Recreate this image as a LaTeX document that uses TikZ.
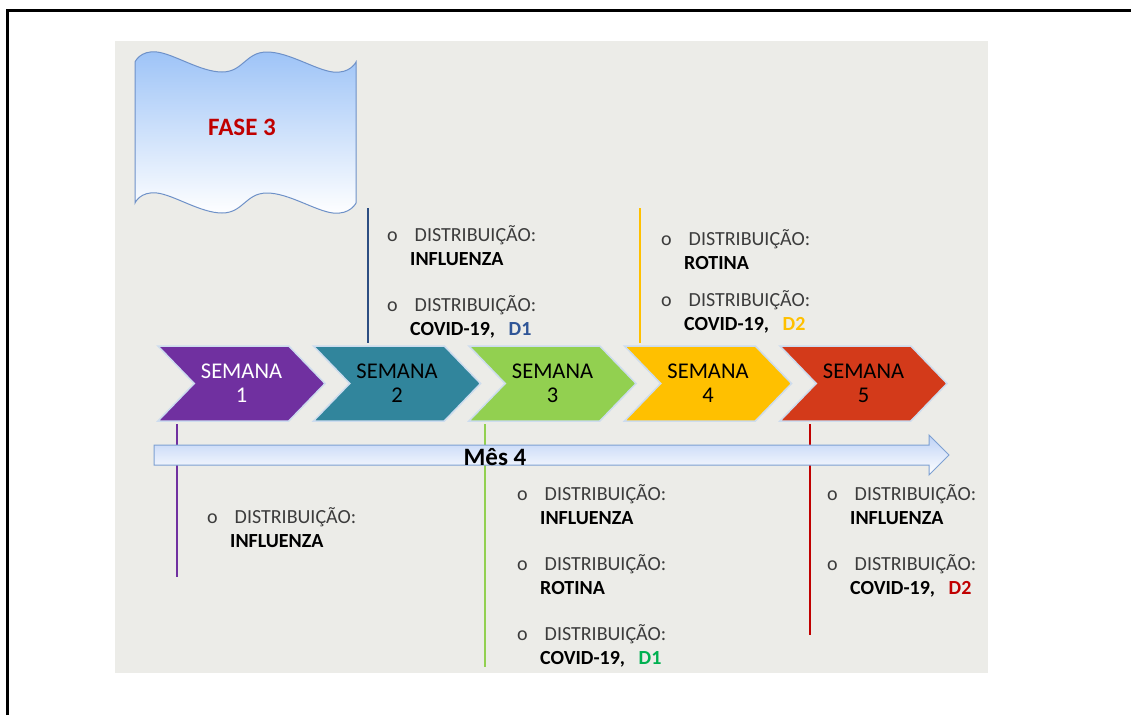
\documentclass[tikz,border=0pt]{standalone}
\usepackage{fontspec}
\setmainfont{Carlito}
\usepackage{tikz}
\usetikzlibrary{shapes.symbols, positioning}

\definecolor{bggray}{RGB}{236,236,232}
\definecolor{flagblue}{RGB}{157,195,247}
\definecolor{flagedge}{RGB}{110,145,200}
\definecolor{faseRed}{RGB}{192,0,0}
\definecolor{wkPurple}{RGB}{112,48,160}
\definecolor{wkTeal}{RGB}{49,133,156}
\definecolor{wkGreen}{RGB}{146,208,80}
\definecolor{wkGold}{RGB}{255,192,0}
\definecolor{wkRed}{RGB}{211,58,26}
\definecolor{wkEdge}{RGB}{205,220,238}
\definecolor{arrowBlue}{RGB}{190,210,246}
\definecolor{arrowEdge}{RGB}{125,160,210}
\definecolor{stemNavy}{RGB}{45,78,130}
\definecolor{stemRed}{RGB}{192,0,0}
\definecolor{txtGray}{RGB}{60,60,60}
\definecolor{doseBlue}{RGB}{47,85,151}
\definecolor{doseGreen}{RGB}{0,176,80}

\newcommand{\distrib}[1]{%
  \begin{tabular}{@{}p{23pt}@{}l@{}}
    \textcolor{txtGray}{o} & \textcolor{txtGray}{\ DISTRIBUIÇÃO:}\\
    & \textbf{#1}
  \end{tabular}}

\begin{document}
\begin{tikzpicture}[x=1pt, y=-1pt, node distance=22pt]

    % Define styles
    \tikzstyle{week} = [signal, signal from=west, signal to=east, signal pointer angle=92, draw=wkEdge, line width=1.5pt, minimum width=167pt, minimum height=75pt, inner sep=0pt, align=center, font=\fontsize{22.5}{24}\selectfont]
    \tikzstyle{flag} = [draw=flagedge, line width=1pt, top color=flagblue, bottom color=white]
    \tikzstyle{timeline} = [draw=arrowEdge, line width=1pt, top color=arrowBlue, bottom color=white]
    \tikzstyle{stem} = [line width=2.5pt]
    \tikzstyle{entry} = [anchor=north west, inner sep=0pt, font=\fontsize{20}{24}\selectfont]

    \useasboundingbox (0,0) rectangle (1131,715);
    \fill[white] (0,0) rectangle (1131,715);
    \draw[line width=3pt] (7.5,715) -- (7.5,10.5) -- (1131,10.5);
    \fill[bggray] (115,41) rectangle (988,673);

    % Flag
    \path[flag] plot[smooth, tension=0.7] coordinates {(135,62) (157,52) (222,72) (267,52) (333,72) (356,62)}
        -- plot[smooth, tension=0.7] coordinates {(356,203) (333,213) (267,193) (222,213) (157,193) (135,203)} -- cycle;
    \node[anchor=base, font=\fontsize{25}{28}\selectfont\bfseries, text=faseRed] (fase) at (242,135) {FASE 3};

    % Stems
    \foreach \x/\ya/\yb/\col in {368/208/343/stemNavy, 640/208/343/wkGold, 177/424/577/wkPurple, 485/424/667/wkGreen, 810/424/635/stemRed}
        \draw[stem, \col] (\x,\ya) -- (\x,\yb);

    % Timeline
    \path[timeline] (154,445) -- (929,445) -- (929,435) -- (949,455) -- (929,475) -- (929,465) -- (154,465) -- cycle;
    \node[anchor=base, font=\fontsize{25}{28}\selectfont\bfseries] (mes) at (495,465) {Mês 4};

    % Weeks
    \foreach \i/\col/\txt in {1/wkPurple/white, 2/wkTeal/black, 3/wkGreen/black, 4/wkGold/black, 5/wkRed/black}
        \node[week, fill=\col, text=\txt] (w\i) at ({241.5+155.5*(\i-1)}, 383.5) {SEMANA\\\i};

    % Notes above
    \node[entry] (n2a) at (387,224.1) {\distrib{INFLUENZA}};
    \node[entry, below=22pt of n2a.south west, anchor=north west] (n2b) {\distrib{COVID-19,\ \ \ \textcolor{doseBlue}{D1}}};
    \node[entry] (n4a) at (661,228.1) {\distrib{ROTINA}};
    \node[entry, below=13pt of n4a.south west, anchor=north west] (n4b) {\distrib{COVID-19,\ \ \ \textcolor{wkGold}{D2}}};

    % Notes below
    \node[entry] (n1a) at (207,506.1) {\distrib{INFLUENZA}};
    \node[entry] (n3a) at (517,483.1) {\distrib{INFLUENZA}};
    \node[entry, below=22pt of n3a.south west, anchor=north west] (n3b) {\distrib{ROTINA}};
    \node[entry, below=22pt of n3b.south west, anchor=north west] (n3c) {\distrib{COVID-19,\ \ \ \textcolor{doseGreen}{D1}}};
    \node[entry] (n5a) at (827,483.1) {\distrib{INFLUENZA}};
    \node[entry, below=22pt of n5a.south west, anchor=north west] (n5b) {\distrib{COVID-19,\ \ \ \textcolor{faseRed}{D2}}};

\end{tikzpicture}
\end{document}
